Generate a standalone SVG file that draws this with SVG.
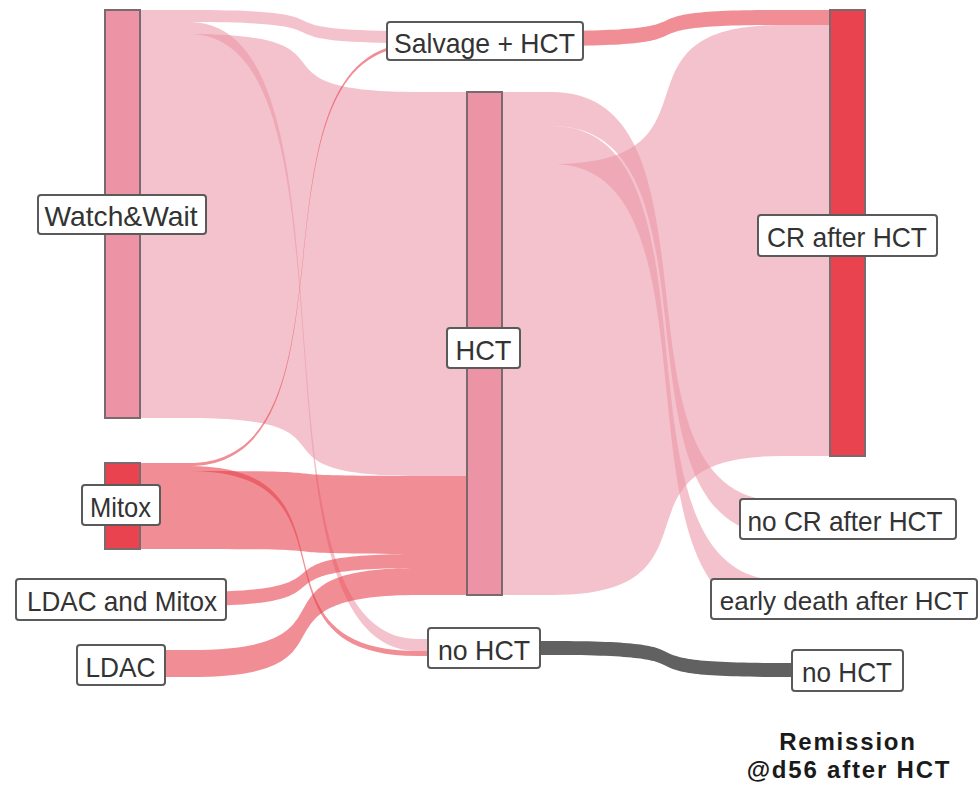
<svg xmlns="http://www.w3.org/2000/svg" width="980" height="785" viewBox="0 0 980 785">
<style>
.pale{fill:#EC93A5;fill-opacity:0.57}
.red{fill:#E8434F;fill-opacity:0.6}
.gray{fill:#616161}
.bar{stroke:#7a6a6e;stroke-width:2}
.pink{fill:#EC93A5}
.crimson{fill:#E8434F}
.lab{fill:#fff;stroke:#5a5a5a;stroke-width:2}
.t{font-family:"Liberation Sans",Arial,sans-serif;font-size:28px;fill:#333;text-anchor:middle}
.title{font-family:"Liberation Sans",Arial,sans-serif;font-size:24px;font-weight:bold;fill:#1a1a1a;text-anchor:middle;letter-spacing:1.8px}
</style>
<rect width="980" height="785" fill="#fff"/>
<g id="connectors">
<path class="pale" d="M140,10 H189 C372.2,10 234.8,31 418,31 H467 V43 H418 C234.8,43 372.2,22 189,22 H140 Z"/>
<path class="pale" d="M140,22 H189 C372.2,22 234.8,639 418,639 H467 V651 H418 C234.8,651 372.2,34 189,34 H140 Z"/>
<path class="pale" d="M140,34 H189 C372.2,34 234.8,92 418,92 H467 V476 H418 C234.8,476 372.2,418 189,418 H140 Z"/>
<path class="red" d="M140,463 H189 C372.2,463 234.8,43 418,43 H467 V46 H418 C234.8,46 372.2,466 189,466 H140 Z"/>
<path class="red" d="M140,466 H189 C372.2,466 234.8,651 418,651 H467 V656 H418 C234.8,656 372.2,471 189,471 H140 Z"/>
<path class="red" d="M140,471 H189 C372.2,471 234.8,476 418,476 H467 V554 H418 C234.8,554 372.2,549 189,549 H140 Z"/>
<path class="red" d="M140,592 H189 C372.2,592 234.8,554 418,554 H467 V568 H418 C234.8,568 372.2,606 189,606 H140 Z"/>
<path class="red" d="M140,650 H189 C372.2,650 234.8,568 418,568 H467 V595 H418 C234.8,595 372.2,677 189,677 H140 Z"/>
<path class="red" d="M503,31 H552 C735.2,31 597.8,10 781,10 H830 V25 H781 C597.8,25 735.2,46 552,46 H503 Z"/>
<path class="pale" d="M503,92 H552 C735.2,92 597.8,501 781,501 H830 V535 H781 C597.8,535 735.2,126 552,126 H503 Z"/>
<path class="pale" d="M503,126 H552 C735.2,126 597.8,580 781,580 H830 V618 H781 C597.8,618 735.2,164 552,164 H503 Z"/>
<path class="pale" d="M503,164 H552 C735.2,164 597.8,25 781,25 H830 V456 H781 C597.8,456 735.2,595 552,595 H503 Z"/>
<path class="gray" d="M503,641 H552 C735.2,641 597.8,663 781,663 H830 V677 H781 C597.8,677 735.2,655 552,655 H503 Z"/>
</g>
<g id="node-watchwait">
<rect class="bar pink" x="105" y="10" width="35" height="408"/>
<rect class="lab" x="38" y="195" width="168" height="39" rx="3"/>
<text class="t" x="121" y="226" textLength="153" lengthAdjust="spacingAndGlyphs">Watch&amp;Wait</text>
</g>
<g id="node-mitox">
<rect class="bar crimson" x="105" y="463" width="35" height="86"/>
<rect class="lab" x="82" y="485" width="78" height="40" rx="3"/>
<text class="t" x="120.5" y="516.5" textLength="61" lengthAdjust="spacingAndGlyphs">Mitox</text>
</g>
<g id="node-ldac-mitox">
<rect class="bar crimson" x="105" y="592" width="35" height="14"/>
<rect class="lab" x="16" y="579" width="210" height="41" rx="3"/>
<text class="t" x="122" y="611" textLength="190" lengthAdjust="spacingAndGlyphs">LDAC and Mitox</text>
</g>
<g id="node-ldac">
<rect class="bar crimson" x="105" y="650" width="35" height="27"/>
<rect class="lab" x="77" y="645" width="88" height="40" rx="3"/>
<text class="t" x="120.5" y="676.5" textLength="70" lengthAdjust="spacingAndGlyphs">LDAC</text>
</g>
<g id="node-salvage">
<rect class="bar pink" x="467" y="31" width="35" height="15"/>
<rect class="lab" x="387" y="22" width="196" height="38" rx="3"/>
<text class="t" x="484.5" y="52.5" textLength="181" lengthAdjust="spacingAndGlyphs">Salvage + HCT</text>
</g>
<g id="node-hct">
<rect class="bar pink" x="467" y="92" width="35" height="503"/>
<rect class="lab" x="447" y="328" width="73" height="40" rx="3"/>
<text class="t" x="483.5" y="359.5" textLength="56" lengthAdjust="spacingAndGlyphs">HCT</text>
</g>
<g id="node-nohct-mid">
<rect class="bar pink" x="467" y="639" width="35" height="17"/>
<rect class="lab" x="428" y="628" width="112" height="40" rx="3"/>
<text class="t" x="484" y="659.5" textLength="92" lengthAdjust="spacingAndGlyphs">no HCT</text>
</g>
<g id="node-cr">
<rect class="bar crimson" x="830" y="10" width="35" height="446"/>
<rect class="lab" x="758" y="215" width="179" height="41" rx="3"/>
<text class="t" x="847" y="247" textLength="160" lengthAdjust="spacingAndGlyphs">CR after HCT</text>
</g>
<g id="node-nocr">
<rect class="bar pink" x="830" y="501" width="35" height="34"/>
<rect class="lab" x="740" y="499" width="216" height="40" rx="3"/>
<text class="t" x="845" y="530.5" textLength="195" lengthAdjust="spacingAndGlyphs">no CR after HCT</text>
</g>
<g id="node-death">
<rect class="bar pink" x="830" y="580" width="35" height="38"/>
<rect class="lab" x="711" y="579" width="266" height="40" rx="3"/>
<text class="t" x="844" y="609.5" style="font-size:26px">early death after HCT</text>
</g>
<g id="node-nohct-right">
<rect class="bar pink" x="830" y="663" width="35" height="14"/>
<rect class="lab" x="792" y="650" width="111" height="41" rx="3"/>
<text class="t" x="847" y="682" textLength="90" lengthAdjust="spacingAndGlyphs">no HCT</text>
</g>
<g id="axis-title">
<text class="title" x="848" y="750">Remission</text>
<text class="title" x="849" y="778">@d56 after HCT</text>
</g>
</svg>
